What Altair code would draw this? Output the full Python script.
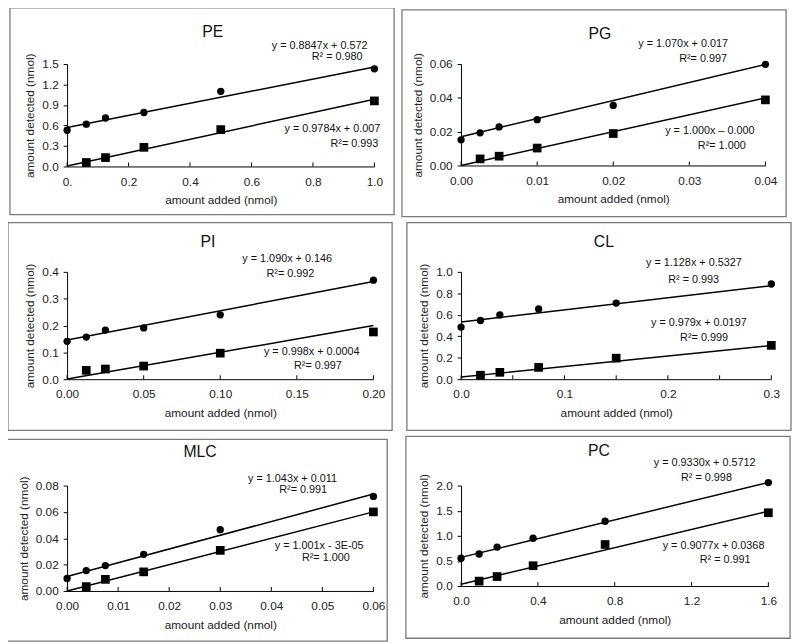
import altair as alt
import pandas as pd

# ---------------- data ----------------
NAMES = ["PE", "PG", "PI", "CL", "MLC", "PC"]

PE_X_CIRC = [0.0, 0.0625, 0.125, 0.25, 0.5, 1.0]
PE_Y_CIRC = [0.53, 0.62, 0.71, 0.79, 1.10, 1.43]
PE_X_SQ = [0.0625, 0.125, 0.25, 0.5, 1.0]
PE_Y_SQ = [0.058, 0.13, 0.28, 0.54, 0.96]

PG_X_CIRC = [0.0, 0.0025, 0.005, 0.01, 0.02, 0.04]
PG_Y_CIRC = [0.0152, 0.0193, 0.0228, 0.0271, 0.0355, 0.0598]
PG_X_SQ = [0.0025, 0.005, 0.01, 0.02, 0.04]
PG_Y_SQ = [0.0039, 0.0055, 0.0103, 0.0189, 0.0388]

PI_X_CIRC = [0.0, 0.0125, 0.025, 0.05, 0.1, 0.2]
PI_Y_CIRC = [0.141, 0.157, 0.183, 0.191, 0.240, 0.369]
PI_X_SQ = [0.0125, 0.025, 0.05, 0.1, 0.2]
PI_Y_SQ = [0.033, 0.038, 0.049, 0.097, 0.176]

CL_X_CIRC = [0.0, 0.01875, 0.0375, 0.075, 0.15, 0.3]
CL_Y_CIRC = [0.486, 0.547, 0.599, 0.654, 0.709, 0.887]
CL_X_SQ = [0.01875, 0.0375, 0.075, 0.15, 0.3]
CL_Y_SQ = [0.037, 0.064, 0.110, 0.196, 0.315]

MLC_X_CIRC = [0.0, 0.00375, 0.0075, 0.015, 0.03, 0.06]
MLC_Y_CIRC = [0.0095, 0.0155, 0.0193, 0.0278, 0.0465, 0.0718]
MLC_X_SQ = [0.00375, 0.0075, 0.015, 0.03, 0.06]
MLC_Y_SQ = [0.0033, 0.0088, 0.0145, 0.0308, 0.060]

PC_X_CIRC = [0.0, 0.094, 0.1875, 0.375, 0.75, 1.6]
PC_Y_CIRC = [0.554, 0.638, 0.775, 0.951, 1.29, 2.06]
PC_X_SQ = [0.094, 0.1875, 0.375, 0.75, 1.6]
PC_Y_SQ = [0.098, 0.189, 0.404, 0.827, 1.459]

# fitted-line coefficients printed on the figure (circle series, square series)
SLOPES = {"PE": [0.8847, 0.9784], "PG": [1.070, 1.000], "PI": [1.090, 0.998],
          "CL": [1.128, 0.979], "MLC": [1.043, 1.001], "PC": [0.9330, 0.9077]}
INTERCEPTS = {"PE": [0.572, 0.007], "PG": [0.017, 0.0], "PI": [0.146, 0.0004],
              "CL": [0.5327, 0.0197], "MLC": [0.011, -3e-05], "PC": [0.5712, 0.0368]}

EQ_TEXT = {
    "PE": ["y = 0.8847x + 0.572", "R² = 0.980", "y = 0.9784x + 0.007", "R²= 0.993"],
    "PG": ["y = 1.070x + 0.017", "R²= 0.997", "y = 1.000x – 0.000", "R²= 1.000"],
    "PI": ["y = 1.090x + 0.146", "R²= 0.992", "y = 0.998x + 0.0004", "R²= 0.997"],
    "CL": ["y = 1.128x + 0.5327", "R² = 0.993", "y = 0.979x + 0.0197", "R²= 0.999"],
    "MLC": ["y = 1.043x + 0.011", "R²= 0.991", "y = 1.001x - 3E-05", "R²= 1.000"],
    "PC": ["y = 0.9330x + 0.5712", "R² = 0.998", "y = 0.9077x + 0.0368", "R² = 0.991"],
}

X_TICKS = {"PE": [0, 0.2, 0.4, 0.6, 0.8, 1.0], "PG": [0, 0.01, 0.02, 0.03, 0.04],
           "PI": [0, 0.05, 0.10, 0.15, 0.20], "CL": [0, 0.1, 0.2, 0.3],
           "MLC": [0, 0.01, 0.02, 0.03, 0.04, 0.05, 0.06], "PC": [0, 0.4, 0.8, 1.2, 1.6]}
X_TICK_MARKS = dict(X_TICKS)
X_TICK_MARKS["CL"] = [0, 0.05, 0.1, 0.15, 0.2, 0.25, 0.3]
Y_TICKS = {"PE": [0, 0.3, 0.6, 0.9, 1.2, 1.5], "PG": [0, 0.02, 0.04, 0.06],
           "PI": [0, 0.1, 0.2, 0.3, 0.4], "CL": [0, 0.2, 0.4, 0.6, 0.8, 1.0],
           "MLC": [0, 0.02, 0.04, 0.06, 0.08], "PC": [0, 0.5, 1.0, 1.5, 2.0]}
X_FMT = {"PE": ".1f", "PG": ".2f", "PI": ".2f", "CL": ".1f", "MLC": ".2f", "PC": ".1f"}
Y_FMT = {"PE": ".1f", "PG": ".2f", "PI": ".1f", "CL": ".1f", "MLC": ".2f", "PC": ".1f"}

POINTS = {
    "PE": (PE_X_CIRC, PE_Y_CIRC, PE_X_SQ, PE_Y_SQ),
    "PG": (PG_X_CIRC, PG_Y_CIRC, PG_X_SQ, PG_Y_SQ),
    "PI": (PI_X_CIRC, PI_Y_CIRC, PI_X_SQ, PI_Y_SQ),
    "CL": (CL_X_CIRC, CL_Y_CIRC, CL_X_SQ, CL_Y_SQ),
    "MLC": (MLC_X_CIRC, MLC_Y_CIRC, MLC_X_SQ, MLC_Y_SQ),
    "PC": (PC_X_CIRC, PC_Y_CIRC, PC_X_SQ, PC_Y_SQ),
}

# ---------------- layout (pixels, relative to each plot area) ----------------
LAYOUT = {
    #        W    H   boxL boxT  boxB(below plot)  title(x,y)
    "PE":  (312, 104, -58, -57, 49, (148, -32)),
    "PG":  (309, 103, -60, -55, 52, (141, -30)),
    "PI":  (311, 109, -60, -50, 52, (143, -30)),
    "CL":  (315, 109, -55, -50, 52, (145, -30)),
    "MLC": (311, 107, -65, -47, 51, (135, -34)),
    "PC":  (312, 102, -56, -50, 53, (140, -35)),
}
BOX_W = 390
EQ_POS = {
    "PE": [(305, -18), (300, -7), (318, 66), (316, 81)],
    "PG": [(271, -20), (270, -5), (298, 68), (289, 83)],
    "PI": [(269, -13), (251, 2), (297, 81), (279, 96)],
    "CL": [(285, -9), (262, 8), (290, 52), (271, 67)],
    "MLC": [(274, -7), (264, 5), (301, 61), (287, 74)],
    "PC": [(299, -23), (275, -8), (308, 61), (294, 76)],
}

FONT = "Liberation Sans"
one_row = pd.DataFrame({"k": [0]})


def panel(name):
    W, H, bl, bt, bb, (tx, ty) = LAYOUT[name]
    xc, yc, xs, ys = POINTS[name]
    xmax = X_TICKS[name][-1]
    ymax = Y_TICKS[name][-1]

    pts = pd.DataFrame({
        "series": ["circ"] * len(xc) + ["sq"] * len(xs),
        "x": list(xc) + list(xs),
        "y": list(yc) + list(ys),
    })
    lines = pd.DataFrame({
        "series": ["circ", "circ", "sq", "sq"],
        "x": [0, xmax, 0, xmax],
        "slope": [SLOPES[name][0]] * 2 + [SLOPES[name][1]] * 2,
        "intercept": [INTERCEPTS[name][0]] * 2 + [INTERCEPTS[name][1]] * 2,
    })
    ticks = pd.DataFrame({"x": X_TICK_MARKS[name]})

    if name == "PE":
        xlabel = "datum.value == 0 ? '0.' : format(datum.value, '.1f')"
    else:
        xlabel = f"format(datum.value, '{X_FMT[name]}')"

    xscale = alt.Scale(domain=[0, xmax], nice=False, zero=True)
    yscale = alt.Scale(domain=[0, ymax], nice=False, zero=True)
    xenc = alt.X("x:Q", scale=xscale,
                 axis=alt.Axis(values=X_TICKS[name], labelExpr=xlabel, ticks=False,
                               labelOverlap=False, labelFlush=False, labelBound=False,
                               labelPadding=10,
                               title="amount added (nmol)", titlePadding=8))
    yenc = alt.Y("y:Q", scale=yscale,
                 axis=alt.Axis(values=Y_TICKS[name], format=Y_FMT[name],
                               labelOverlap=False, labelFlush=False, labelBound=False,
                               tickSize=4, labelPadding=5,
                               title="amount detected (nmol)", titlePadding=5))

    box = alt.Chart(one_row).mark_rect(filled=False, stroke="#7a7a7a", strokeWidth=1.3).encode(
        x=alt.value(bl), x2=alt.value(bl + BOX_W),
        y=alt.value(bt), y2=alt.value(H + bb))

    title = alt.Chart(one_row).mark_text(fontSize=16, font=FONT, color="#111",
                                         baseline="middle", align="center").encode(
        x=alt.value(tx), y=alt.value(ty), text=alt.value(name))

    tick_rules = alt.Chart(ticks).mark_rule(color="black", strokeWidth=1).encode(
        x=xenc, y=alt.value(H - 4), y2=alt.value(H))

    line = alt.Chart(lines).transform_calculate(
        y="datum.slope * datum.x + datum.intercept"
    ).mark_line(color="black", strokeWidth=1.5).encode(
        x=xenc, y=yenc, detail="series:N")

    points = alt.Chart(pts).mark_point(filled=True, opacity=1, color="black").encode(
        x=xenc, y=yenc,
        shape=alt.Shape("series:N", scale=alt.Scale(domain=["circ", "sq"],
                                                    range=["circle", "square"]), legend=None),
        size=alt.Size("series:N", scale=alt.Scale(domain=["circ", "sq"], range=[55, 78]),
                      legend=None))

    texts = []
    for txt, (px, py) in zip(EQ_TEXT[name], EQ_POS[name]):
        texts.append(alt.Chart(one_row).mark_text(fontSize=11, font=FONT, color="#111",
                                                  align="right", baseline="middle").encode(
            x=alt.value(px), y=alt.value(py), text=alt.value(txt)))

    return alt.layer(box, tick_rules, line, points, title, *texts).properties(width=W, height=H)


chart = alt.concat(*[panel(n) for n in NAMES], columns=2,
                   spacing={"row": 4, "column": 6}).properties(
    padding={"left": -6, "top": -6, "right": 0, "bottom": 0}, background="white"
).configure_view(stroke=None).configure_axis(
    grid=False, domainColor="black", tickColor="black",
    labelFont=FONT, labelFontSize=12, labelColor="#222",
    titleFont=FONT, titleFontSize=12, titleFontWeight="normal", titleColor="#222",
)

chart.save("out.html", embed_options={"renderer": "svg", "actions": False})
